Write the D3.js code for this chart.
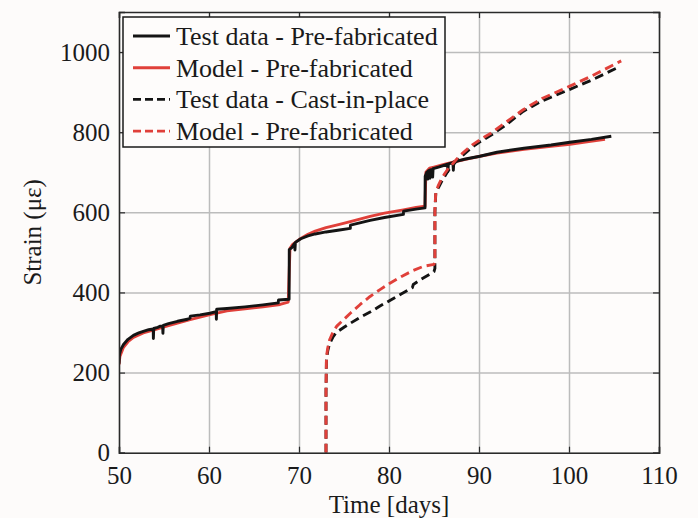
<!DOCTYPE html>
<html lang="en">
<head>
    <meta charset="UTF-8">
    <script src="https://d3js.org/d3.v7.min.js"></script>
    <style>
        body{ margin:0; background:#fdfbfa; }
        text{ font-family:"Liberation Serif","Times New Roman",serif; fill:#1a1a1a; }
    </style>
    <title>Strain vs time</title>
</head>
<body>
    <div class="canvas"></div>
</body>
<script>
    // values: [time (days), strain (µε)]
    const testPrefab = [[50.0,222],[50.05,245],[50.2,258],[50.5,270],[51.0,283],[51.6,293],[52.2,299],[52.7,303],
        [53.3,307],[53.8,309],[53.82,285],[53.86,310],[54.3,313],[54.6,316],[54.85,316],[54.88,298],[54.92,318],
        [55.5,322],[56.5,328],[57.6,333],[57.9,336],[57.92,341],[59.0,344],[60.1,348],[60.8,352],[60.82,333],
        [60.85,358],[62,360],[64,364],[66,369],[67.7,374],[67.72,381],[68.9,383],[68.92,507],[69.2,512],[69.5,522],
        [69.55,506],[69.6,525],[70.2,534],[71.0,541],[71.8,546],[73,551],[74.5,556],[75.7,560],[75.72,568],
        [77.9,580],[79.5,587],[81.6,595],[81.62,603],[83,608],[84.0,611],[84.02,690],[84.2,700],[84.3,683],
        [84.35,703],[84.5,705],[84.55,685],[84.6,706],[84.8,707],[84.85,688],[84.9,709],[85.5,713],[86.5,720],
        [86.55,702],[86.6,721],[87.1,724],[87.15,705],[87.2,726],[88.5,733],[90.1,740],[92,750],[95,760],
        [98,768],[100.1,775],[102.5,782],[104.7,790]];
    const modelPrefab = [[50.0,220],[50.1,240],[50.5,263],[51,277],[51.6,288],[52.7,299],[54,307],[55.5,317],
        [57.9,332],[60,344],[62,354],[64,359],[66,364],[67.9,370],[68.8,376],[69.0,510],[69.3,520],[70,532],
        [71,545],[71.8,553],[73,562],[74.5,570],[75.7,577],[77.9,590],[79.5,598],[81.6,606],[83,612],[84.0,615],
        [84.1,700],[84.5,710],[85,713],[86,719],[87.1,725],[88.5,732],[90.1,740],[92,748],[95,757],[98,765],
        [100.1,770],[102,776],[104,782]];
    const testCast = [[73.0,0],[73.0,150],[73.05,232],[73.2,255],[73.4,272],[73.8,290],[74.2,301],[75,313],
        [75.7,323],[76.8,338],[77.9,351],[79,366],[80.1,380],[81.4,397],[82.6,412],[82.7,420],[83.5,432],
        [84.5,445],[85.0,452],[85.1,460],[85.1,600],[85.2,648],[85.5,662],[85.8,675],[86.2,690],[86.6,705],
        [87.1,718],[87.8,735],[88.6,750],[89.3,764],[90.1,776],[91.5,795],[93,818],[94.9,852],[97,878],
        [100.1,907],[102.5,930],[105.4,961]];
    const modelCast = [[73.0,0],[73.0,150],[73.05,240],[73.2,262],[73.4,282],[73.8,302],[74.2,316],[75,333],
        [75.7,348],[76.8,370],[77.9,390],[79,407],[80.1,423],[81.4,440],[82.7,455],[83.8,465],[85.0,470],
        [85.1,478],[85.1,610],[85.2,650],[85.5,668],[85.8,682],[86.2,697],[86.6,710],[87.1,722],[87.8,740],
        [88.6,756],[89.3,769],[90.1,781],[91.5,800],[93,825],[94.9,856],[97,884],[100.1,915],[102.5,940],
        [105.8,978]];

    const xTicks = [50,60,70,80,90,100,110];
    const yTicks = [0,200,400,600,800,1000];
    const legendLabels = ['Test data - Pre-fabricated','Model - Pre-fabricated','Test data - Cast-in-place','Model - Pre-fabricated'];

    const width = 698;
    const height = 518;
    let [mt,mb,mr,ml] = [12,65.3,39,119];
    const graphWidth = width - ml - mr;
    const graphHeight = height - mt - mb;
    const red = '#e0403a';
    const black = '#141414';

    const svg = d3.select('.canvas')
                    .append('svg')
                    .attr('width',width)
                    .attr('height',height);
    svg.append('rect').attr('width',width).attr('height',height).attr('fill','#fdfbfa');

    const graph = svg.append('g')
                    .attr('transform',`translate(${ml},${mt})`);

    const x = d3.scaleLinear().domain([50,110]).range([0,graphWidth]);
    const y = d3.scaleLinear().domain([0,1100]).range([graphHeight,0]);

    graph.append('rect').attr('width',graphWidth).attr('height',graphHeight).attr('fill','#fefcfb');

    // grid
    const gridX = graph.append('g').attr('transform',`translate(0,${graphHeight})`)
        .call(d3.axisBottom(x).tickValues(xTicks).tickSize(-graphHeight).tickFormat(''));
    const gridY = graph.append('g')
        .call(d3.axisLeft(y).tickValues(yTicks).tickSize(-graphWidth).tickFormat(''));
    [gridX,gridY].forEach(g=>{
        g.select('.domain').remove();
        g.selectAll('line').attr('stroke','#bcbcbc').attr('stroke-width',1.5);
    });

    // curves
    graph.append('clipPath').attr('id','clip')
        .append('rect').attr('width',graphWidth).attr('height',graphHeight);
    const line = d3.line().x(d=>x(d[0])).y(d=>y(d[1]));
    const series = [
        {data:modelPrefab, color:red, dash:null},
        {data:testPrefab, color:black, dash:null},
        {data:testCast, color:black, dash:'9,5'},
        {data:modelCast, color:red, dash:'9,5'}
    ];
    graph.append('g').attr('clip-path','url(#clip)')
        .selectAll('path').data(series).enter()
        .append('path')
        .attr('d',d=>line(d.data))
        .attr('fill','none')
        .attr('stroke',d=>d.color)
        .attr('stroke-width',2.9)
        .attr('stroke-linejoin','round')
        .attr('stroke-dasharray',d=>d.dash);

    // axes with inward ticks on all four sides
    const xAxisG = graph.append('g').attr('transform',`translate(0,${graphHeight})`)
        .call(d3.axisBottom(x).tickValues(xTicks).tickSize(-6).tickPadding(14));
    const xTopG = graph.append('g')
        .call(d3.axisTop(x).tickValues(xTicks).tickSize(-6).tickFormat(''));
    const yAxisG = graph.append('g')
        .call(d3.axisLeft(y).tickValues(yTicks).tickSize(-6).tickPadding(9).tickFormat(d3.format('d')));
    const yRightG = graph.append('g').attr('transform',`translate(${graphWidth},0)`)
        .call(d3.axisRight(y).tickValues(yTicks).tickSize(-6).tickFormat(''));
    [xAxisG,xTopG,yAxisG,yRightG].forEach(g=>{
        g.select('.domain').attr('stroke','#2a2a2a').attr('stroke-width',1.5);
        g.selectAll('line').attr('stroke','#2a2a2a').attr('stroke-width',1.2);
        g.selectAll('text').style('font-size','25px').attr('fill','#1a1a1a')
            .style('font-family','"Liberation Serif",serif');
    });

    svg.append('text').attr('x',ml + graphWidth/2).attr('y',513)
        .attr('text-anchor','middle').style('font-size','25px').text('Time [days]');
    svg.append('text').attr('transform',`translate(41,${mt + graphHeight/2}) rotate(-90)`)
        .attr('text-anchor','middle').style('font-size','25px').text('Strain (\u03bc\u03b5)');

    // legend
    const legend = svg.append('g');
    legend.append('rect').attr('x',123).attr('y',17).attr('width',322).attr('height',130)
        .attr('fill','#fefcfb').attr('stroke','#1a1a1a').attr('stroke-width',1.5);
    // legend rows are in order: test pre, model pre, test cast, model cast
    const legendOrder = [series[1],series[0],series[2],series[3]];
    const items = legend.selectAll('g.item').data(legendLabels)
        .enter().append('g').attr('class','item')
        .attr('transform',(d,i)=>`translate(0,${36 + i*31.7})`);
    items.append('line').attr('x1',133).attr('x2',170)
        .attr('stroke',(d,i)=>legendOrder[i].color)
        .attr('stroke-width',2.9)
        .attr('stroke-dasharray',(d,i)=>legendOrder[i].dash ? '8,4' : null);
    items.append('text').attr('x',176).attr('y',9)
        .style('font-size','26px').text(d=>d);
</script>
</html>
